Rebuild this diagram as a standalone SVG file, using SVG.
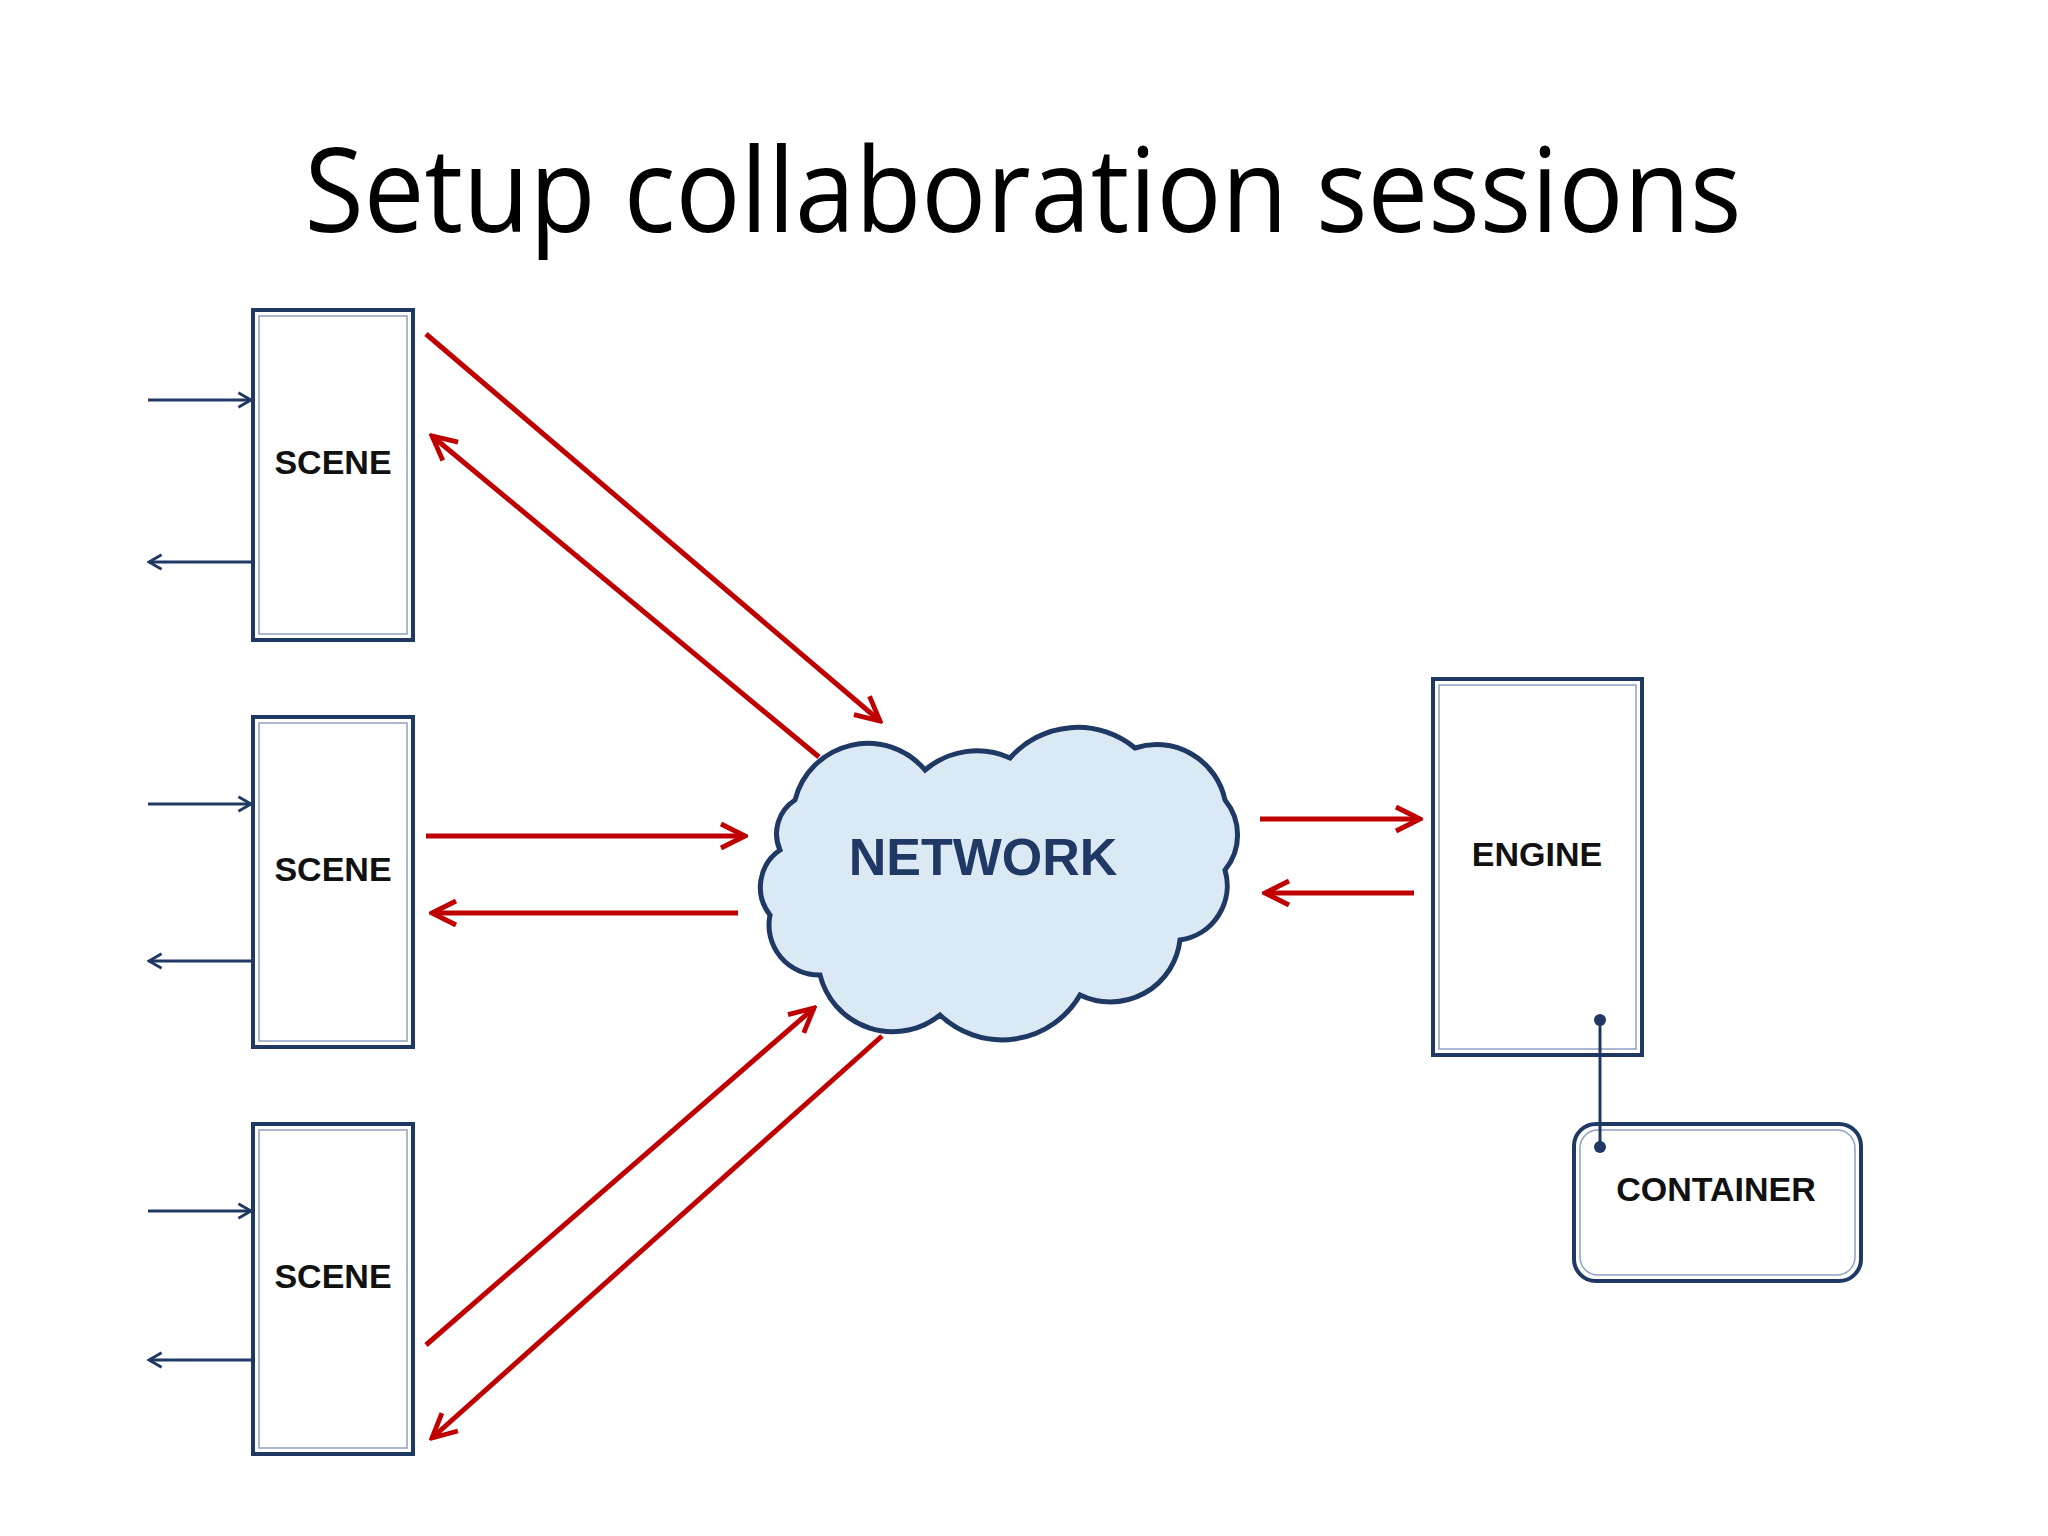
<svg xmlns="http://www.w3.org/2000/svg" width="2048" height="1536" viewBox="0 0 2048 1536">
<style>
.box{fill:#fff;stroke:#1f3864;stroke-width:4}
.inner{fill:none;stroke:#8ea0c0;stroke-width:1.5}
.lbl{font-family:"Liberation Sans",Arial,sans-serif;font-weight:bold;font-size:34px;fill:#111;text-anchor:middle}
.red{stroke:#c00000;stroke-width:5;fill:none;marker-end:url(#ra)}
.blue{stroke:#1f3864;stroke-width:3;fill:none;marker-end:url(#ba)}
</style>
<defs>
<marker id="ra" viewBox="0 0 10 10" refX="9" refY="5" markerWidth="6" markerHeight="6" orient="auto" markerUnits="strokeWidth"><path d="M1,1 L9,5 L1,9" fill="none" stroke="#c00000" stroke-width="1.6"/></marker>
<marker id="ba" viewBox="0 0 10 10" refX="9" refY="5" markerWidth="6" markerHeight="6" orient="auto" markerUnits="strokeWidth"><path d="M2,1 L9,5 L2,9" fill="none" stroke="#1f3864" stroke-width="1.6"/></marker>
</defs>
<rect width="2048" height="1536" fill="#fff"/>
<text x="1023" y="232" font-family="'Open Sans','Liberation Sans',sans-serif" font-size="118" fill="#000" text-anchor="middle" textLength="1437" lengthAdjust="spacingAndGlyphs">Setup collaboration sessions</text>
<g id="scene1"><rect class="box" x="253" y="310" width="160" height="330"/><rect class="inner" x="259" y="316" width="148" height="318"/><text class="lbl" x="333" y="474">SCENE</text></g>
<g id="scene2"><rect class="box" x="253" y="717" width="160" height="330"/><rect class="inner" x="259" y="723" width="148" height="318"/><text class="lbl" x="333" y="881">SCENE</text></g>
<g id="scene3"><rect class="box" x="253" y="1124" width="160" height="330"/><rect class="inner" x="259" y="1130" width="148" height="318"/><text class="lbl" x="333" y="1288">SCENE</text></g>
<g id="network">
<path d="M795,800 A75 75 0 0 1 925,770 A80 80 0 0 1 1010,758 A90 90 0 0 1 1135,748 A70 70 0 0 1 1225,800 A55 55 0 0 1 1225,870 A55 55 0 0 1 1180,940 A70 70 0 0 1 1080,995 A90 90 0 0 1 940,1015 A75 75 0 0 1 820,975 A50 50 0 0 1 770,915 A45 45 0 0 1 780,850 A40 40 0 0 1 795,800 Z" fill="#dbe9f4" stroke="#1f3864" stroke-width="5"/>
<text x="983" y="875" font-family="'Liberation Sans',Arial,sans-serif" font-weight="bold" font-size="52" fill="#1f3864" text-anchor="middle">NETWORK</text>
</g>
<g id="engine"><rect class="box" x="1433" y="679" width="209" height="376"/><rect class="inner" x="1439" y="685" width="197" height="364"/><text class="lbl" x="1537" y="866">ENGINE</text></g>
<g id="container"><rect class="box" x="1574" y="1124" width="287" height="157" rx="22"/><rect class="inner" x="1580" y="1130" width="275" height="145" rx="18"/><text class="lbl" x="1716" y="1201">CONTAINER</text></g>
<g id="connectors">
<line class="blue" x1="148" y1="400" x2="251" y2="400"/><line class="blue" x1="252" y1="562" x2="149" y2="562"/>
<line class="blue" x1="148" y1="804" x2="251" y2="804"/><line class="blue" x1="252" y1="961" x2="149" y2="961"/>
<line class="blue" x1="148" y1="1211" x2="251" y2="1211"/><line class="blue" x1="252" y1="1360" x2="149" y2="1360"/>
<line class="red" x1="426" y1="334" x2="880" y2="721"/>
<line class="red" x1="819" y1="757" x2="432" y2="436"/>
<line class="red" x1="426" y1="836" x2="745" y2="836"/>
<line class="red" x1="738" y1="913" x2="432" y2="913"/>
<line class="red" x1="426" y1="1345" x2="814" y2="1008"/>
<line class="red" x1="882" y1="1036" x2="432" y2="1438"/>
<line class="red" x1="1260" y1="819" x2="1420" y2="819"/>
<line class="red" x1="1414" y1="893" x2="1265" y2="893"/>
<line x1="1600" y1="1020" x2="1600" y2="1147" stroke="#1f3864" stroke-width="3"/>
<circle cx="1600" cy="1020" r="6" fill="#1f3864"/><circle cx="1600" cy="1147" r="6" fill="#1f3864"/>
</g>
</svg>
